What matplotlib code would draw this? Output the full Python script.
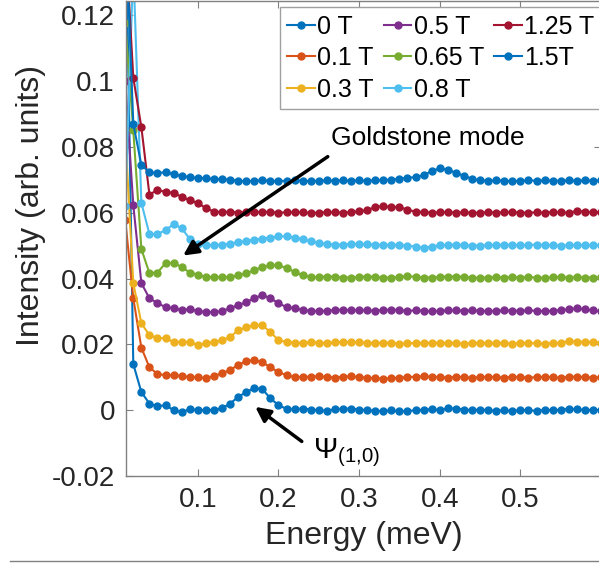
import numpy as np
import matplotlib
matplotlib.use("Agg")
import matplotlib.pyplot as plt
from matplotlib.lines import Line2D

plt.rcParams['font.family'] = ['Liberation Sans', 'DejaVu Sans']
plt.rcParams['mathtext.fontset'] = 'custom'
plt.rcParams['mathtext.rm'] = 'Liberation Sans'
plt.rcParams['mathtext.it'] = 'Liberation Sans'
plt.rcParams['mathtext.default'] = 'regular'

# --- Data: energy grid and offset intensity curves for each field --- #
energy = np.round(np.arange(0.01, 0.605, 0.01), 2)

fields = ["0 T", "0.1 T", "0.3 T", "0.5 T", "0.65 T", "0.8 T", "1.25 T", "1.5T"]
colors = ["#0072BD", "#D95319", "#EDB120", "#7E2F8E", "#77AC30", "#4DBEEE", "#A2142F", "#0072BD"]

i_0T = [0.1600, 0.0140, 0.0055, 0.0020, 0.0012, 0.0015, 0.0000, -0.0006, 0.0003, 0.0000,
        0.0000, 0.0001, 0.0006, 0.0020, 0.0040, 0.0055, 0.0067, 0.0064, 0.0036, 0.0015,
        0.0004, 0.0003, 0.0005, 0.0002, 0.0000, -0.0002, 0.0003, 0.0004, 0.0005, 0.0002,
        0.0000, -0.0002, -0.0003, 0.0000, -0.0004, -0.0003, 0.0000, 0.0001, 0.0003, 0.0000,
        0.0006, 0.0005, 0.0002, 0.0000, 0.0002, 0.0000, -0.0002, 0.0000, -0.0003, 0.0000,
        0.0000, -0.0002, 0.0001, 0.0000, 0.0001, 0.0004, 0.0003, 0.0000, 0.0001, 0.0000]

i_01T = [0.0578, 0.0340, 0.0190, 0.0130, 0.0110, 0.0106, 0.0106, 0.0104, 0.0100, 0.0100,
         0.0097, 0.0104, 0.0112, 0.0122, 0.0137, 0.0149, 0.0152, 0.0146, 0.0130, 0.0116,
         0.0106, 0.0101, 0.0100, 0.0102, 0.0103, 0.0101, 0.0099, 0.0102, 0.0103, 0.0100,
         0.0099, 0.0097, 0.0095, 0.0097, 0.0099, 0.0100, 0.0102, 0.0103, 0.0101, 0.0100,
         0.0099, 0.0101, 0.0100, 0.0098, 0.0100, 0.0101, 0.0100, 0.0099, 0.0101, 0.0100,
         0.0099, 0.0100, 0.0101, 0.0100, 0.0098, 0.0101, 0.0102, 0.0100, 0.0099, 0.0100]

i_03T = [0.0840, 0.0386, 0.0264, 0.0228, 0.0220, 0.0218, 0.0207, 0.0207, 0.0207, 0.0198,
         0.0203, 0.0207, 0.0213, 0.0222, 0.0243, 0.0252, 0.0258, 0.0258, 0.0237, 0.0213,
         0.0207, 0.0205, 0.0204, 0.0206, 0.0205, 0.0203, 0.0206, 0.0207, 0.0206, 0.0206,
         0.0204, 0.0203, 0.0205, 0.0204, 0.0202, 0.0203, 0.0204, 0.0203, 0.0205, 0.0204,
         0.0203, 0.0204, 0.0202, 0.0203, 0.0204, 0.0203, 0.0203, 0.0204, 0.0202, 0.0203,
         0.0204, 0.0203, 0.0202, 0.0203, 0.0204, 0.0210, 0.0208, 0.0207, 0.0206, 0.0205]

i_05T = [0.1000, 0.0623, 0.0386, 0.0340, 0.0325, 0.0313, 0.0310, 0.0304, 0.0307, 0.0301,
         0.0298, 0.0298, 0.0301, 0.0310, 0.0319, 0.0328, 0.0340, 0.0350, 0.0340, 0.0325,
         0.0313, 0.0310, 0.0305, 0.0302, 0.0301, 0.0302, 0.0304, 0.0305, 0.0303, 0.0304,
         0.0303, 0.0302, 0.0304, 0.0305, 0.0304, 0.0302, 0.0303, 0.0302, 0.0300, 0.0302,
         0.0303, 0.0303, 0.0302, 0.0303, 0.0302, 0.0301, 0.0302, 0.0303, 0.0302, 0.0302,
         0.0303, 0.0302, 0.0301, 0.0302, 0.0304, 0.0306, 0.0310, 0.0306, 0.0303, 0.0300]

i_065T = [0.1176, 0.0850, 0.0490, 0.0416, 0.0418, 0.0447, 0.0447, 0.0435, 0.0418, 0.0412,
          0.0404, 0.0405, 0.0404, 0.0404, 0.0410, 0.0416, 0.0425, 0.0435, 0.0440, 0.0440,
          0.0432, 0.0420, 0.0410, 0.0405, 0.0404, 0.0406, 0.0406, 0.0403, 0.0403, 0.0405,
          0.0406, 0.0405, 0.0402, 0.0403, 0.0405, 0.0407, 0.0405, 0.0403, 0.0403, 0.0405,
          0.0406, 0.0406, 0.0405, 0.0402, 0.0402, 0.0403, 0.0404, 0.0403, 0.0404, 0.0403,
          0.0404, 0.0403, 0.0402, 0.0404, 0.0404, 0.0403, 0.0404, 0.0403, 0.0403, 0.0404]

i_08T = [0.0620, 0.1350, 0.0630, 0.0535, 0.0535, 0.0547, 0.0565, 0.0553, 0.0520, 0.0505,
         0.0502, 0.0502, 0.0503, 0.0506, 0.0510, 0.0514, 0.0518, 0.0521, 0.0524, 0.0528,
         0.0528, 0.0524, 0.0519, 0.0513, 0.0508, 0.0505, 0.0503, 0.0503, 0.0505, 0.0504,
         0.0504, 0.0503, 0.0502, 0.0503, 0.0502, 0.0500, 0.0497, 0.0493, 0.0497, 0.0501,
         0.0502, 0.0503, 0.0502, 0.0500, 0.0500, 0.0501, 0.0502, 0.0503, 0.0502, 0.0501,
         0.0502, 0.0503, 0.0502, 0.0501, 0.0500, 0.0501, 0.0502, 0.0501, 0.0501, 0.0502]

i_125T = [0.1450, 0.1010, 0.0860, 0.0655, 0.0669, 0.0663, 0.0660, 0.0648, 0.0638, 0.0629,
          0.0614, 0.0603, 0.0602, 0.0603, 0.0600, 0.0602, 0.0601, 0.0603, 0.0602, 0.0600,
          0.0601, 0.0602, 0.0601, 0.0599, 0.0600, 0.0602, 0.0601, 0.0600, 0.0602, 0.0604,
          0.0608, 0.0617, 0.0620, 0.0617, 0.0617, 0.0609, 0.0603, 0.0602, 0.0600, 0.0601,
          0.0602, 0.0600, 0.0601, 0.0599, 0.0600, 0.0601, 0.0600, 0.0601, 0.0602, 0.0600,
          0.0600, 0.0601, 0.0600, 0.0602, 0.0601, 0.0600, 0.0605, 0.0603, 0.0601, 0.0602]

i_15T = [0.1500, 0.0870, 0.0745, 0.0723, 0.0720, 0.0723, 0.0717, 0.0711, 0.0708, 0.0705,
         0.0705, 0.0702, 0.0702, 0.0700, 0.0697, 0.0695, 0.0697, 0.0698, 0.0697, 0.0696,
         0.0697, 0.0698, 0.0697, 0.0696, 0.0697, 0.0698, 0.0697, 0.0698, 0.0697, 0.0698,
         0.0697, 0.0698, 0.0699, 0.0700, 0.0703, 0.0706, 0.0708, 0.0714, 0.0726, 0.0735,
         0.0731, 0.0721, 0.0712, 0.0703, 0.0698, 0.0697, 0.0698, 0.0697, 0.0696, 0.0697,
         0.0698, 0.0697, 0.0698, 0.0697, 0.0697, 0.0698, 0.0697, 0.0698, 0.0697, 0.0698]

curves = [i_0T, i_01T, i_03T, i_05T, i_065T, i_08T, i_125T, i_15T]

ytick_vals = [-0.02, 0, 0.02, 0.04, 0.06, 0.08, 0.1, 0.12]
ytick_text = ["-0.02", "0", "0.02", "0.04", "0.06", "0.08", "0.1", "0.12"]
xtick_vals = [0.1, 0.2, 0.3, 0.4, 0.5]

# --- Figure --- #
fig = plt.figure(figsize=(5.99, 5.67), dpi=100)
ax = fig.add_axes([0.2104, 0.1605, 0.793, 0.8377])

for name, col, vals in zip(fields, colors, curves):
    ax.plot(energy, vals, '-o', color=col, lw=1.5, ms=5, label=name)

ax.set_xlim(0.011, 0.6)
ax.set_ylim(-0.02, 0.1243)
ax.set_xticks(xtick_vals)
ax.set_xticklabels([f"{v:g}" for v in xtick_vals])
ax.set_yticks(ytick_vals)
ax.set_yticklabels(ytick_text)

axis_grey = "#808080"
text_grey = "#262626"
for sp in ax.spines.values():
    sp.set_color(axis_grey)
    sp.set_linewidth(1)
ax.tick_params(direction='in', length=5, width=0.8, color=axis_grey, labelcolor=text_grey,
               labelsize=20, top=True, right=True, pad=8)

ax.set_xlabel("Energy (meV)", fontsize=23, color=text_grey)
ax.set_ylabel("Intensity (arb. units)", fontsize=23, color=text_grey)
ax.xaxis.set_label_coords(0.50, -0.095)
ax.yaxis.set_label_coords(-0.168, 0.57)

leg = ax.legend(ncol=3, loc='upper right', bbox_to_anchor=(1.002, 0.987), fontsize=18,
                fancybox=False, edgecolor="#a0a0a0", framealpha=1, handlelength=1.1,
                handletextpad=0.1, columnspacing=0.4, labelspacing=0.3, borderpad=0.3,
                borderaxespad=0)
leg.get_frame().set_linewidth(1)

# arrows pointing out the two modes
ax.annotate("", xy=(0.079, 0.0465), xytext=(0.264, 0.0775),
            arrowprops=dict(arrowstyle='-|>', lw=2.5, color='black', mutation_scale=22))
ax.text(0.385, 0.0827, "Goldstone mode", fontsize=19, color='black', ha='center', va='center')

ax.annotate("", xy=(0.1685, 0.0015), xytext=(0.2317, -0.0100),
            arrowprops=dict(arrowstyle='-|>', lw=2.5, color='black', mutation_scale=22))
ax.text(0.243, -0.0128, r"$\Psi_{(1{,}0)}$", fontsize=21, color='black', ha='left', va='center')

fig.add_artist(Line2D([0.017, 1.0], [1 - 561 / 567] * 2, transform=fig.transFigure,
                      color=axis_grey, lw=1))

fig.savefig("out.png", dpi=100)
